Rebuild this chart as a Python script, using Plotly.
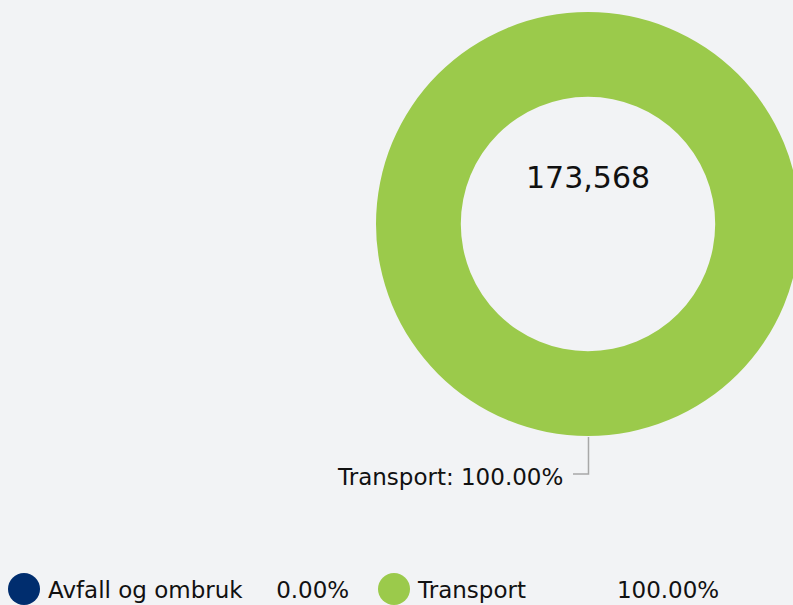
import plotly.graph_objects as go

# ---- data ----
categories = ["Avfall og ombruk", "Transport"]
values = [0, 173568]
colors = ["#002d6e", "#9bca4b"]

total = sum(values)
pcts = [v / total * 100 for v in values]

W, H = 800, 605
FONT = "DejaVu Sans, Verdana, sans-serif"
BG = "#f2f3f5"
TXT = "#111111"

# pie geometry (pixels)
cx, cy, R = 588, 224, 212

fig = go.Figure()
fig.add_trace(go.Pie(
    labels=categories, values=values, hole=0.6, sort=False,
    direction="clockwise", rotation=0,
    marker=dict(colors=colors), textinfo="none",
    hoverinfo="label+percent",
    domain=dict(x=[(cx - R) / W, 1], y=[1 - (cy + R) / H, 1 - (cy - R) / H]),
    showlegend=False,
))

# custom legend drawn as scatter traces on hidden axes
idx = list(range(len(categories)))
fig.add_trace(go.Scatter(
    x=idx, y=[0] * len(idx), mode="markers",
    marker=dict(size=32, color=colors, line=dict(width=0)),
    cliponaxis=False, hoverinfo="skip", showlegend=False,
))
fig.add_trace(go.Scatter(
    x=[i + 0.0649 for i in idx], y=[-0.2] * len(idx), mode="text",
    text=categories, textposition="middle right",
    textfont=dict(size=23, color=TXT, family=FONT),
    cliponaxis=False, hoverinfo="skip", showlegend=False,
))
fig.add_trace(go.Scatter(
    x=[i + 0.879 for i in idx], y=[-0.2] * len(idx), mode="text",
    text=[f"{p:.2f}%" for p in pcts], textposition="middle left",
    textfont=dict(size=23, color=TXT, family=FONT),
    cliponaxis=False, hoverinfo="skip", showlegend=False,
))

step = 370.0
r0 = -24 / step
r1 = r0 + W / step
fig.update_xaxes(visible=False, range=[r0, r1], domain=[0, 1], fixedrange=True)
fig.update_yaxes(visible=False, range=[-1, 1], domain=[0, 32 / H], fixedrange=True)

# center total
fig.add_annotation(x=cx / W, y=1 - 177 / H, xref="paper", yref="paper",
                   xanchor="center", yanchor="middle",
                   text=f"{total:,}", showarrow=False,
                   font=dict(size=30, color=TXT, family=FONT))

# outside data label with connector
lab_y = 474
fig.add_annotation(x=565 / W, y=1 - 477 / H, xref="paper", yref="paper",
                   xanchor="right", yanchor="middle",
                   text=f"{categories[1]}: {pcts[1]:.2f}%", showarrow=False,
                   font=dict(size=23, color=TXT, family=FONT))
p = lambda x, y: f"{x / W:.5f},{1 - y / H:.5f}"
fig.add_shape(type="path", xref="paper", yref="paper",
              path=f"M {p(cx + 0.5, cy + R + 1)} L {p(cx + 0.5, lab_y)} L {p(573, lab_y)}",
              line=dict(color="#a8a8a8", width=1.5))

fig.update_layout(
    width=W, height=H, margin=dict(l=0, r=0, t=0, b=0),
    paper_bgcolor=BG, plot_bgcolor=BG,
    font=dict(family=FONT),
    showlegend=False,
)

fig.write_html("out.html", config={"displayModeBar": False},
               post_script="document.body.style.overflow='hidden';document.documentElement.style.overflow='hidden';document.body.style.margin='0';")
